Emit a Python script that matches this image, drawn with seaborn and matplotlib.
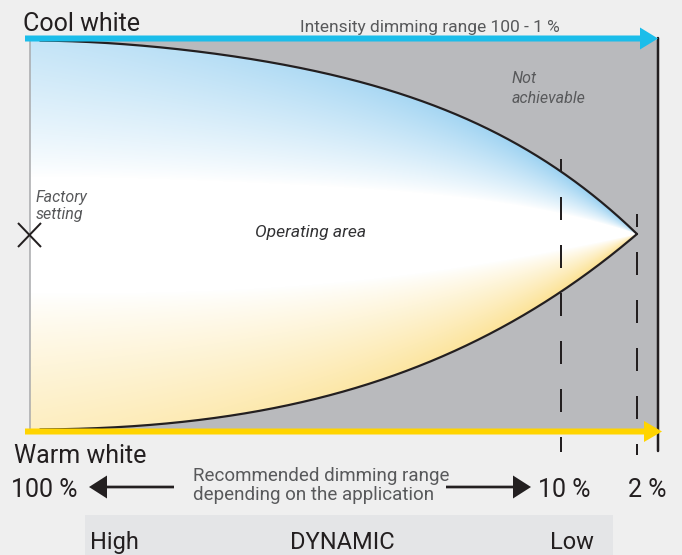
import numpy as np
import matplotlib
matplotlib.use("Agg")
import matplotlib.pyplot as plt
import seaborn as sns
from matplotlib.patches import Rectangle, Polygon

# ---------------- data ----------------
title_top = "Cool white"
title_bottom = "Warm white"
intensity_label = "Intensity dimming range 100 - 1 %"
recommended_label = ["Recommended dimming range", "depending on the application"]
scale_labels = ["100 %", "10 %", "2 %"]
dynamic_labels = ["High", "DYNAMIC", "Low"]
area_label = "Operating area"
not_label = ["Not", "achievable"]
factory_label = ["Factory", "setting"]

# operating-area boundary (pixel frame of the diagram)
upper_x = [97, 187, 253, 330, 350, 430, 497, 560, 630, 637]
upper_y = [42, 47, 58, 77, 82, 102, 132, 172, 227, 234]
lower_x = [97, 220, 287, 330, 350, 430, 497, 560, 630, 637]
lower_y = [428, 420, 408, 393, 388, 360, 330, 295, 240, 234]

# ---------------- style ----------------
sns.set_theme(style="white")
plt.rcParams["font.family"] = ["Roboto", "DejaVu Sans"]
plt.rcParams["lines.scale_dashes"] = False

DARK = "#231f20"
GREY_TXT = "#58595b"
PX = 0.72  # px -> pt at 100 dpi

fig = plt.figure(figsize=(6.82, 5.55), dpi=100)
fig.patch.set_facecolor("#efefef")
ax = fig.add_axes([0, 0, 1, 1])
ax.set_facecolor("#efefef")

X0, X_APEX, X_END = 30, 637, 658
Y_TOP, Y_BOT, Y_MID = 40, 430, 234
U_TOP, L_BOT = 40.5, 429.5

# dynamic band
ax.add_patch(Rectangle((85, 515), 528, 45, fc="#e4e5e7", ec="none", zorder=0))
# not achievable region
ax.add_patch(Rectangle((X0, Y_TOP), X_END - X0, Y_BOT - Y_TOP, fc="#b9babd", ec="none", zorder=1))


def smooth_boundary(px, py, edge, xf):
    """Least-squares fit f(u)=c2 u^2 + c3 u^3 + c4 u^4 (flat at the left edge)."""
    u = (np.asarray(px) - X0) / (X_APEX - X0)
    f = (np.asarray(py) - edge) / (Y_MID - edge)
    A = np.column_stack([u ** 2, u ** 3, u ** 4])
    wts = np.ones_like(u)
    wts[-1] = 20.0
    c, *_ = np.linalg.lstsq(A * wts[:, None], f * wts, rcond=None)
    uu = (xf - X0) / (X_APEX - X0)
    ff = np.clip(c[0] * uu ** 2 + c[1] * uu ** 3 + c[2] * uu ** 4, 0, 1)
    ff[-1] = 1.0
    return edge + ff * (Y_MID - edge)


xf = np.linspace(X0, X_APEX, 900)
uf = smooth_boundary(upper_x, upper_y, U_TOP, xf)
lf = smooth_boundary(lower_x, lower_y, L_BOT, xf)

verts = np.vstack([np.column_stack([xf, uf]), np.column_stack([xf[::-1], lf[::-1]])])
lens = Polygon(verts, closed=True, fc="none", ec="none", transform=ax.transData)
ax.add_patch(lens)

# gradient image
gx = np.arange(X0, X_APEX + 1) + 0.5
gy = np.arange(Y_TOP, Y_BOT + 1) + 0.5
GX, GY = np.meshgrid(gx, gy)
U = np.interp(GX, xf, uf)
L = np.interp(GX, xf, lf)
yc = (U + L) / 2
h = np.maximum((L - U) / 2, 1.0)
r = (GY - yc) / h
a = np.clip((np.abs(r) - 0.3) / 0.68, 0, 1) ** 0.85
w = 0.55 + 0.45 * (GX - X0) / (X_APEX - X0)
s = (a * w)[..., None]
blue = np.array([152, 208, 241]) / 255
yellow = np.array([252, 225, 145]) / 255
target = np.where((r < 0)[..., None], blue, yellow)
rgb = 1 - s * (1 - target)
im = ax.imshow(rgb, extent=(X0, X_APEX + 1, Y_BOT + 1, Y_TOP), origin="upper",
               interpolation="bilinear", aspect="auto", zorder=2)
im.set_clip_path(lens)

# boundary outlines
m = xf >= 40
sns.lineplot(x=xf[m], y=uf[m], sort=False, estimator=None, color=DARK,
             linewidth=2.2 * PX, ax=ax, zorder=4)
sns.lineplot(x=xf[m], y=lf[m], sort=False, estimator=None, color=DARK,
             linewidth=2.2 * PX, ax=ax, zorder=4)

# left thin edge, right solid edge
ax.plot([X0, X0], [Y_TOP, Y_BOT], color="#a7a8aa", lw=1.5 * PX, zorder=3)
ax.plot([X_END, X_END], [38, 451], color=DARK, lw=2.5 * PX, zorder=5)

# dashed markers at 10 % and 2 %
dash = (10 * PX, (23 * PX, 25 * PX))
ax.plot([561, 561], [159, 452], color=DARK, lw=2 * PX, linestyle=dash, zorder=5)
ax.plot([X_APEX, X_APEX], [214, 455], color=DARK, lw=2 * PX, linestyle=dash, zorder=5)

# top and bottom arrows
ax.arrow(25, 38.5, X_END - 25, 0, width=6, head_width=22, head_length=18,
         length_includes_head=True, fc="#1bbdea", ec="none", zorder=6)
ax.arrow(25, 431.5, 662 - 25, 0, width=6, head_width=21, head_length=18,
         length_includes_head=True, fc="#ffd400", ec="none", zorder=6)

# recommended range arrows
ax.arrow(174, 487, 89 - 174, 0, width=2.7, head_width=23, head_length=18,
         length_includes_head=True, fc=DARK, ec="none", zorder=6)
ax.arrow(446, 487, 531 - 446, 0, width=2.7, head_width=23, head_length=18,
         length_includes_head=True, fc=DARK, ec="none", zorder=6)

# factory setting cross
ax.plot([18, 41], [223, 247], color=DARK, lw=2 * PX, zorder=6, solid_capstyle="butt")
ax.plot([18, 41], [247, 223], color=DARK, lw=2 * PX, zorder=6, solid_capstyle="butt")

# ---------------- texts ----------------
ax.text(23, 31, title_top, fontsize=18, color=DARK, va="baseline", ha="left", zorder=7)
ax.text(300, 32, intensity_label, fontsize=12.5, color=GREY_TXT, va="baseline", ha="left", zorder=7)
ax.text(512, 83, not_label[0], fontsize=11.5, style="italic", color=GREY_TXT, va="baseline", zorder=7)
ax.text(512, 103, not_label[1], fontsize=11.5, style="italic", color=GREY_TXT, va="baseline", zorder=7)
ax.text(36, 202, factory_label[0], fontsize=11.5, style="italic", color=GREY_TXT, va="baseline", zorder=7)
ax.text(36, 219, factory_label[1], fontsize=11.5, style="italic", color=GREY_TXT, va="baseline", zorder=7)
ax.text(255, 237, area_label, fontsize=12.6, style="italic", color="#333335", va="baseline", zorder=7)

ax.text(14, 463, title_bottom, fontsize=18, color=DARK, va="baseline", ha="left", zorder=7)
ax.text(11, 497, scale_labels[0], fontsize=18, color=DARK, va="baseline", ha="left", zorder=7)
ax.text(538, 497, scale_labels[1], fontsize=18, color=DARK, va="baseline", ha="left", zorder=7)
ax.text(628, 497, scale_labels[2], fontsize=18, color=DARK, va="baseline", ha="left", zorder=7)
ax.text(193, 481, recommended_label[0], fontsize=13.5, color=GREY_TXT, va="baseline", ha="left", zorder=7)
ax.text(193, 500, recommended_label[1], fontsize=13.5, color=GREY_TXT, va="baseline", ha="left", zorder=7)

ax.text(90, 549, dynamic_labels[0], fontsize=17, color=DARK, va="baseline", ha="left", zorder=7)
ax.text(342, 549, dynamic_labels[1], fontsize=17, color=DARK, va="baseline", ha="center", zorder=7)
ax.text(572, 549, dynamic_labels[2], fontsize=17, color=DARK, va="baseline", ha="center", zorder=7)

ax.set_xlim(0, 682)
ax.set_ylim(555, 0)
ax.axis("off")
if ax.get_legend() is not None:
    ax.get_legend().remove()

fig.savefig("out.png", dpi=100, facecolor=fig.get_facecolor())
